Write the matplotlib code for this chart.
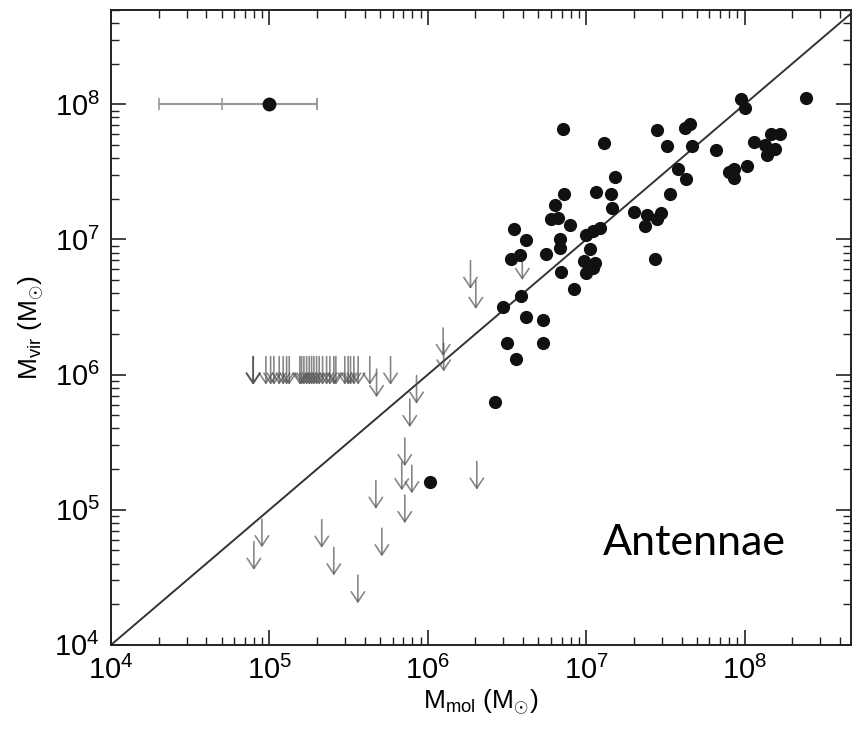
import matplotlib.pyplot as plt
from matplotlib.ticker import LogLocator, FuncFormatter, NullFormatter
import numpy as np

plt.rcParams['font.family'] = ['Liberation Sans Narrow', 'Liberation Sans', 'DejaVu Sans']
plt.rcParams['mathtext.fontset'] = 'custom'
plt.rcParams['mathtext.rm'] = 'Liberation Sans'
plt.rcParams['mathtext.it'] = 'Liberation Sans'

# detected clouds: molecular mass vs virial mass (Msun)
mol_mass = [9.53e7, 2.45e8, 1.01e8, 7.14e6, 2.79e7, 4.18e7, 4.54e7, 1.30e7, 3.25e7, 4.63e7,
            6.59e7, 1.14e8, 1.34e8, 1.46e8, 1.68e8, 1.55e8, 1.39e8, 1.53e7, 3.78e7, 4.25e7,
            7.96e7, 8.56e7, 8.53e7, 1.04e8, 7.28e6, 1.15e7, 1.43e7, 3.37e7, 6.32e6, 1.46e7,
            2.00e7, 2.43e7, 2.95e7, 2.80e7, 2.36e7, 6.03e6, 6.64e6, 7.87e6, 3.49e6, 9.93e6,
            1.10e7, 1.23e7, 4.15e6, 6.81e6, 6.84e6, 1.06e7, 3.37e6, 3.80e6, 5.61e6, 9.64e6,
            1.14e7, 1.11e7, 9.93e6, 6.93e6, 2.72e7, 8.34e6, 3.90e6, 2.97e6, 4.17e6, 5.32e6,
            3.16e6, 5.37e6, 3.63e6, 2.67e6, 1.04e6]
vir_mass = [1.10e8, 1.12e8, 9.34e7, 6.61e7, 6.45e7, 6.72e7, 7.11e7, 5.14e7, 4.91e7, 4.91e7,
            4.59e7, 5.26e7, 4.97e7, 6.07e7, 6.00e7, 4.70e7, 4.19e7, 2.91e7, 3.30e7, 2.82e7,
            3.15e7, 3.34e7, 2.86e7, 3.49e7, 2.17e7, 2.26e7, 2.18e7, 2.18e7, 1.79e7, 1.70e7,
            1.60e7, 1.51e7, 1.56e7, 1.42e7, 1.25e7, 1.41e7, 1.45e7, 1.29e7, 1.19e7, 1.08e7,
            1.15e7, 1.21e7, 9.84e6, 1.01e7, 8.68e6, 8.53e6, 7.23e6, 7.74e6, 7.87e6, 6.91e6,
            6.72e6, 6.10e6, 5.66e6, 5.73e6, 7.11e6, 4.29e6, 3.80e6, 3.19e6, 2.66e6, 2.54e6,
            1.70e6, 1.71e6, 1.31e6, 6.24e5, 1.61e5]

# upper limits on virial mass
lim_mol = [4.75e5, 8.49e5, 7.70e5, 7.16e5, 6.85e5, 7.93e5, 2.04e6, 4.70e5, 7.16e5, 8.97e4,
           7.98e4, 2.14e5, 5.13e5, 2.55e5, 3.62e5, 1.86e6, 2.01e6, 3.95e6, 1.25e6, 1.26e6]
lim_vir = [8.65e5, 7.74e5, 5.19e5, 2.67e5, 1.77e5, 1.68e5, 1.79e5, 1.29e5, 1.01e5, 6.70e4,
           4.56e4, 6.64e4, 5.74e4, 4.15e4, 2.58e4, 5.48e6, 3.89e6, 6.37e6, 1.74e6, 1.34e6]

# row of unresolved clouds plotted at a fixed virial mass
row_mol = [7.9e4, 7.9e4, 7.9e4, 9.50e4, 1.018e5, 1.067e5, 1.153e5, 1.222e5, 1.284e5, 1.334e5,
           1.557e5, 1.597e5, 1.651e5, 1.717e5, 1.783e5, 1.846e5, 1.909e5, 1.985e5, 2.062e5,
           2.166e5, 2.296e5, 2.409e5, 2.552e5, 2.628e5, 2.993e5, 3.141e5, 3.252e5, 3.413e5,
           3.633e5, 4.305e5, 5.82e5]
row_vir = 1.07e6

# typical uncertainty example
err_x, err_y = 1e5, 1e8
err_lo = [2e4, 5e4]
err_hi = 2e5

fig = plt.figure(figsize=(8.54, 7.32), dpi=100)
ax = fig.add_axes([0.130, 0.119, 0.8665, 0.8675])
ax.set_xscale('log')
ax.set_yscale('log')
ax.set_xlim(1e4, 4.7e8)
ax.set_ylim(1e4, 5e8)

# one-to-one line
ax.plot([1e4, 5e8], [1e4, 5e8], color='#333333', lw=1.4, zorder=2)

half = 10 ** 0.104
arrow_kw = dict(arrowstyle='->,head_length=0.45,head_width=0.3', color='#555555', alpha=0.7,
                lw=1.2, mutation_scale=16, shrinkA=0, shrinkB=0)
for x, y in zip(lim_mol, lim_vir):
    ax.annotate('', xy=(x, y / half), xytext=(x, y * half), arrowprops=arrow_kw, zorder=3)
for x in row_mol:
    ax.annotate('', xy=(x, row_vir / half), xytext=(x, row_vir * half), arrowprops=arrow_kw, zorder=3)

ax.plot(mol_mass, vir_mass, 'o', color='#111111', ms=9.5, mec='none', zorder=4)

for lo in err_lo:
    ax.errorbar([err_x], [err_y], xerr=[[err_x - lo], [err_hi - err_x]], fmt='none',
                ecolor='#999999', elinewidth=1.5, capsize=4, capthick=1.2, zorder=3)
ax.plot([err_x], [err_y], 'o', color='#111111', ms=10, mec='none', zorder=4)

# ticks inward on all sides
ax.xaxis.set_major_locator(LogLocator(base=10, numticks=10))
ax.yaxis.set_major_locator(LogLocator(base=10, numticks=10))
ax.xaxis.set_minor_locator(LogLocator(base=10, subs=np.arange(2, 10), numticks=20))
ax.yaxis.set_minor_locator(LogLocator(base=10, subs=np.arange(2, 10), numticks=20))
ax.xaxis.set_minor_formatter(NullFormatter())
ax.yaxis.set_minor_formatter(NullFormatter())
fmt = FuncFormatter(lambda v, p: r'10$^{%d}$' % round(np.log10(v)))
ax.xaxis.set_major_formatter(fmt)
ax.yaxis.set_major_formatter(fmt)
ax.tick_params(which='both', direction='in', top=True, right=True, color='#222222')
ax.tick_params(which='major', length=11, width=1.2, labelsize=21, pad=8)
ax.tick_params(which='minor', length=5.5, width=1.0)
for s in ax.spines.values():
    s.set_linewidth(1.4)
    s.set_color('#222222')

ax.set_xlabel(r'M$_{\mathrm{mol}}$ (M$_{\odot}$)', fontsize=19, labelpad=2)
ax.set_ylabel(r'M$_{\mathrm{vir}}$ (M$_{\odot}$)', fontsize=19, labelpad=6)

ax.text(0.665, 0.161, 'Antennae', transform=ax.transAxes, fontsize=31,
        family=['Lato', 'DejaVu Sans'], ha='left', va='center')

fig.savefig('out.png', dpi=100)
